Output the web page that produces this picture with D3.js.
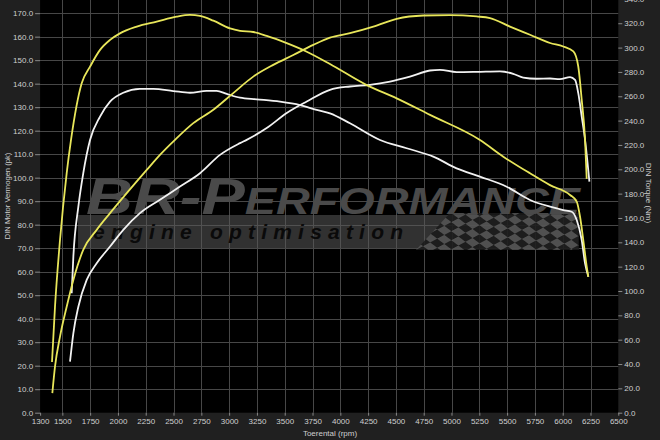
<!DOCTYPE html>
<html><head><meta charset="utf-8">
<script src="https://cdn.jsdelivr.net/npm/d3@7"></script>
<style>html,body{margin:0;padding:0;background:#202020;} svg{display:block;}</style>
</head><body>
<svg id="c" width="660" height="440"></svg>
<script>
// ---- tick labels ----
const xTicks = [1300,1500,1750,2000,2250,2500,2750,3000,3250,3500,3750,4000,4250,4500,4750,5000,5250,5500,5750,6000,6250,6500];
const leftTicks = [0,10,20,30,40,50,60,70,80,90,100,110,120,130,140,150,160,170];
const rightTicks = [0,20,40,60,80,100,120,140,160,180,200,220,240,260,280,300,320,340];

// ---- series: tuned power (pk) ----
const tunedPowerRpm = [1410,1434,1479,1539,1599,1688,1809,1929,2079,2259,2378,2513,2678,2858,3037,3217,3397,3577,3757,3907,4087,4297,4507,4746,4986,5226,5346,5526,5706,5886,6005,6096,6140,6171,6201,6216];
const tunedPowerPk  = [8.3,19.6,32.4,45.1,56.5,69.3,77.8,84.9,93.4,103.3,109.7,116.1,123.2,128.9,136.0,143.0,148.0,152.2,156.5,159.6,161.5,164.3,167.6,169.0,169.2,168.6,167.9,164.3,160.8,157.3,155.8,153.7,147.3,133.1,116.1,99.5];

// ---- series: stock power (pk) ----
const stockPowerRpm = [1569,1599,1644,1719,1809,1929,2048,2198,2378,2558,2738,2918,3098,3158,3338,3518,3698,3907,4087,4267,4447,4626,4806,4896,5046,5226,5436,5555,5645,5766,5886,5975,6066,6111,6140,6171,6201,6240];
const stockPowerPk  = [21.7,33.8,45.1,56.5,63.6,70.7,77.8,84.9,90.6,96.2,101.9,109.7,114.7,116.1,121.1,127.5,132.4,137.4,138.8,139.5,140.9,143.0,145.6,145.9,144.9,145.0,145.2,144.2,142.6,142.1,142.2,141.9,142.8,141.6,136.0,126.0,116.1,98.3];

// ---- series: tuned torque (Nm) ----
const tunedTorqueRpm = [1407,1434,1479,1539,1578,1674,1749,1839,1929,2018,2169,2349,2528,2648,2738,2858,3008,3098,3217,3338,3518,3698,3907,4237,4507,4807,5256,5466,5706,5886,6066,6126,6156,6185,6216,6230];
const tunedTorqueNm  = [41.7,87.1,141.9,196.7,224.1,270.7,284.3,298.1,306.3,311.7,317.2,321.3,325.4,326.8,326.0,322.1,315.8,313.8,312.8,309.6,303.6,296.6,286.5,269.2,258.3,244.7,224.1,210.4,196.7,187.0,178.9,173.4,161.0,141.9,120.0,111.7];

// ---- series: stock torque (Nm) ----
const stockTorqueRpm = [1584,1599,1644,1688,1749,1839,1929,2048,2198,2318,2498,2648,2798,2888,2978,3098,3248,3457,3637,3787,3907,4087,4357,4597,4836,5046,5256,5496,5706,5886,6005,6081,6126,6171,6201,6231];
const stockTorqueNm  = [98.1,128.1,169.3,196.7,224.1,243.3,255.6,262.9,266.0,266.0,264.3,262.9,264.5,264.5,261.9,258.8,257.5,255.6,252.8,248.8,246.0,237.8,224.1,217.3,210.4,200.8,194.0,185.7,174.8,169.3,166.5,165.1,158.3,141.9,122.7,111.7];

const seriesList = [
  {rpm: stockPowerRpm, val: stockPowerPk, axis: "L", color: "#f2f2f2"},
  {rpm: stockTorqueRpm, val: stockTorqueNm, axis: "R", color: "#f2f2f2"},
  {rpm: tunedPowerRpm, val: tunedPowerPk, axis: "L", color: "#e8e65a"},
  {rpm: tunedTorqueRpm, val: tunedTorqueNm, axis: "R", color: "#e8e65a"}
];

const svg = d3.select("#c");
const W = 660, H = 440;
const pLeft = 40.1, pRight = 618.3, pTop = 0, pBottom = 412.7;

const x = d3.scaleLinear().domain([1300, 6500]).range([pLeft, pRight]);
const yL = d3.scaleLinear().domain([0, 175.6]).range([pBottom, pTop]);
const yR = d3.scaleLinear().domain([0, 339.1]).range([pBottom, pTop]);

svg.append("rect").attr("width", W).attr("height", H).attr("fill", "#202020");
svg.append("rect").attr("x", pLeft).attr("y", pTop).attr("width", pRight-pLeft).attr("height", pBottom-pTop).attr("fill", "#000");

const defs = svg.append("defs");
defs.append("clipPath").attr("id","plotclip").append("rect")
  .attr("x", pLeft).attr("y", pTop).attr("width", pRight-pLeft).attr("height", pBottom-pTop);

// grid
const grid = svg.append("g").attr("stroke", "#474747").attr("stroke-width", 1);
grid.selectAll("line.v").data(xTicks.slice(1, -1)).join("line").attr("class","v")
  .attr("x1", d => Math.round(x(d)) + 0.5).attr("x2", d => Math.round(x(d)) + 0.5)
  .attr("y1", pTop).attr("y2", pBottom);
grid.selectAll("line.h").data(leftTicks.slice(1)).join("line").attr("class","h")
  .attr("y1", d => Math.round(yL(d)) + 0.5).attr("y2", d => Math.round(yL(d)) + 0.5)
  .attr("x1", pLeft).attr("x2", pRight);

// watermark
const wm = svg.append("g").attr("clip-path", "url(#plotclip)");
wm.append("rect").attr("x", 78).attr("y", 215).attr("width", 500).attr("height", 33)
  .attr("fill", "#5a5a5a").attr("opacity", 0.55);
const pat = defs.append("pattern").attr("id", "checker").attr("patternUnits", "userSpaceOnUse")
  .attr("width", 16).attr("height", 16).attr("patternTransform", "rotate(-28) skewX(25)");
pat.append("rect").attr("width", 16).attr("height", 16).attr("fill", "#1a1a1a");
pat.append("rect").attr("width", 8).attr("height", 8).attr("fill", "#555");
pat.append("rect").attr("x", 8).attr("y", 8).attr("width", 8).attr("height", 8).attr("fill", "#555");
wm.append("path").attr("d", "M416,250 L450,213 L579,213 L579,250 Z").attr("fill", "url(#checker)").attr("opacity", 0.85);
const big = wm.append("text").attr("x", 86).attr("y", 214)
  .attr("font-family", "Liberation Sans, Arial, sans-serif").attr("font-weight", "bold").attr("font-style", "italic")
  .attr("fill", "#4a4a4a").attr("textLength", 494).attr("lengthAdjust", "spacingAndGlyphs");
big.append("tspan").attr("font-size", 50).text("BR-P");
big.append("tspan").attr("font-size", 36).text("ERFORMANCE");
wm.append("text").attr("x", 93).attr("y", 239)
  .attr("font-family", "Liberation Sans, Arial, sans-serif").attr("font-weight", "bold").attr("font-style", "italic")
  .attr("font-size", 21).attr("fill", "#0a0a0a").attr("textLength", 310).attr("lengthAdjust", "spacing")
  .text("engine optimisation");

// curves
const curves = svg.append("g").attr("clip-path", "url(#plotclip)");
seriesList.forEach(s => {
  const ys = s.axis === "L" ? yL : yR;
  const pts = s.rpm.map((r, i) => [r, s.val[i]]);
  const line = d3.line().x(d => x(d[0])).y(d => ys(d[1])).curve(d3.curveMonotoneX);
  curves.append("path").attr("d", line(pts)).attr("fill", "none")
    .attr("stroke", s.color).attr("stroke-width", 1.8).attr("stroke-linejoin", "round");
});

// axes
const fmt = d3.format(".1f");
const font = "Liberation Sans, Arial, sans-serif";
function styleAxis(g) {
  g.select(".domain").remove();
  g.selectAll(".tick line").attr("stroke", "#8a8a8a");
  g.selectAll(".tick text").attr("fill", "#cfcfcf").attr("font-family", font).attr("font-size", 8);
}
svg.append("g").attr("transform", `translate(${pLeft},0)`)
  .call(d3.axisLeft(yL).tickValues(leftTicks).tickFormat(fmt).tickSize(5).tickPadding(2)).call(styleAxis);
svg.append("g").attr("transform", `translate(${pRight},0)`)
  .call(d3.axisRight(yR).tickValues(rightTicks).tickFormat(fmt).tickSize(4).tickPadding(2)).call(styleAxis);
svg.append("g").attr("transform", `translate(0,${pBottom})`)
  .call(d3.axisBottom(x).tickValues(xTicks).tickFormat(d3.format("d")).tickSize(3).tickPadding(3)).call(styleAxis);

// titles
svg.append("text").attr("transform", "translate(9.5,196) rotate(-90)").attr("text-anchor", "middle")
  .attr("font-family", font).attr("font-size", 7.6).attr("fill", "#cfcfcf").text("DIN Motor Vermogen (pk)");
svg.append("text").attr("transform", "translate(646,193) rotate(90)").attr("text-anchor", "middle")
  .attr("font-family", font).attr("font-size", 8).attr("fill", "#cfcfcf").text("DIN Torque (Nm)");
svg.append("text").attr("x", 330).attr("y", 436).attr("text-anchor", "middle")
  .attr("font-family", font).attr("font-size", 8).attr("fill", "#cfcfcf").text("Toerental (rpm)");
</script>
</body></html>
